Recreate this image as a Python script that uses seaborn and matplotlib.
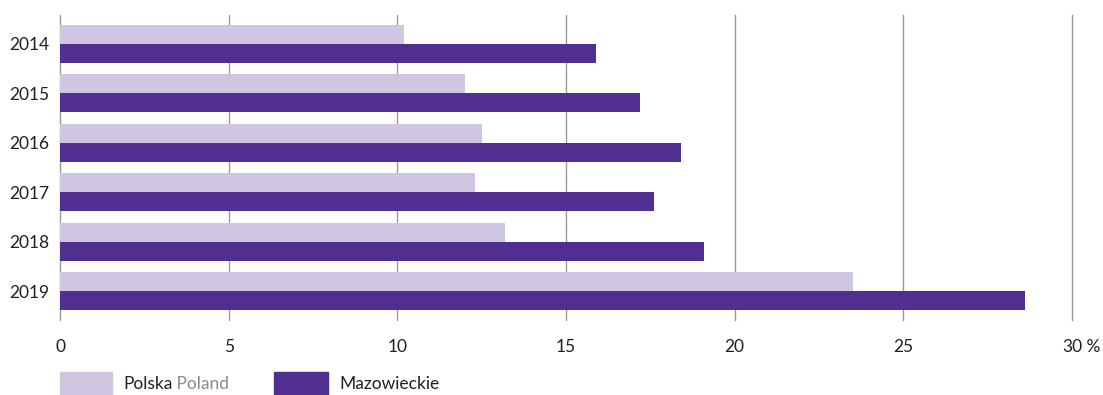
import pandas as pd
import matplotlib.pyplot as plt
import seaborn as sns
from matplotlib.patches import Rectangle

sns.set_style("white")
plt.rcParams['font.family'] = ['Lato', 'DejaVu Sans']

# dane
lata = ['2014', '2015', '2016', '2017', '2018', '2019']
polska = [10.2, 12.0, 12.5, 12.3, 13.2, 23.5]
mazowieckie = [15.9, 17.2, 18.4, 17.6, 19.1, 28.6]
xticks = [0, 5, 10, 15, 20, 25, 30]

JASNY = '#cfc6e1'
CIEMNY = '#512f91'
TEKST = '#231f20'
FS = 12.5

df = pd.DataFrame({
    'rok': lata * 2,
    'wartosc': polska + mazowieckie,
    'seria': ['Polska'] * len(lata) + ['Mazowieckie'] * len(lata),
})

fig = plt.figure(figsize=(11.03, 3.95), dpi=100)
ax = fig.add_axes([60 / 1103, 75 / 395, (1072 - 60) / 1103, 305 / 395])

sns.barplot(data=df, x='wartosc', y='rok', hue='seria', orient='h',
            palette=[JASNY, CIEMNY], width=0.77, saturation=1,
            linewidth=0, legend=False, ax=ax)

ax.set_xlim(0, 30)
ax.set_ylim(5.587, -0.587)
ax.set_xticks(xticks)
ax.set_xticklabels([str(t) for t in xticks])
ax.grid(axis='x', color='#999999', linewidth=1)
ax.grid(axis='y', visible=False)
for gl in ax.get_xgridlines():
    gl.set_clip_on(False)
ax.set_axisbelow(True)
for s in ax.spines.values():
    s.set_visible(False)
ax.tick_params(axis='both', length=0, labelsize=FS, labelcolor=TEKST)
ax.tick_params(axis='x', pad=14)
ax.tick_params(axis='y', pad=8)
ax.set_xlabel('')
ax.set_ylabel('')

# znak procentu za ostatnia etykieta
fig.canvas.draw()
ostatnia = ax.get_xticklabels()[-1]
ax.annotate(' %', xy=(1, 0), xycoords=ostatnia, ha='left', va='bottom',
            fontsize=FS, color=TEKST, annotation_clip=False)

# legenda recznie
fig.patches.append(Rectangle((60 / 1103, 0), 52 / 1103, 23 / 395,
                             transform=fig.transFigure, color=JASNY))
fig.patches.append(Rectangle((274 / 1103, 0), 54 / 1103, 23 / 395,
                             transform=fig.transFigure, color=CIEMNY))
t = fig.text(123 / 1103, 11 / 395, 'Polska', fontsize=FS, color=TEKST, va='center')
ax.annotate(' Poland', xy=(1, 0.5), xycoords=t, ha='left', va='center',
            fontsize=FS, color='#8a8a8a', annotation_clip=False)
fig.text(339 / 1103, 11 / 395, 'Mazowieckie', fontsize=FS, color=TEKST, va='center')

fig.savefig('out.png', dpi=100)
